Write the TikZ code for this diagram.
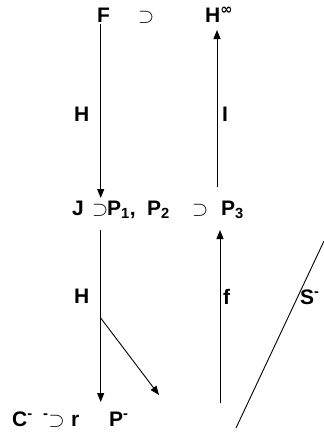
\documentclass[tikz,border=0pt]{standalone}
\usepackage{amsmath,amssymb}
\usepackage{fontspec}
\setmainfont{Liberation Sans}
\newfontfamily\symfont{DejaVu Sans}
\usetikzlibrary{arrows.meta}

\tikzset{
  lbl/.style={font=\bfseries\fontsize{21}{23}\selectfont, inner sep=0pt, anchor=base west},
  map/.style={line width=0.9pt, -{Triangle[length=9pt,width=7pt]}}
}
\newcommand{\incl}{{\fontsize{20}{22}\selectfont$\supset$}}

\begin{document}
\begin{tikzpicture}[x=1pt,y=-1pt]
  \useasboundingbox (0,0) rectangle (324,434);

  % top row
  \node[lbl] (Fset) at (97,22) {F};
  \node[lbl] (topsup) at (138,22) {\incl};
  \node[lbl] (Hinf) at (205,22) {H\textsuperscript{\symfont\bfseries ∞}};

  % middle row
  \node[lbl] (Jset) at (72,215) {J};
  \node[lbl] (midsupA) at (92,215) {\incl};
  \node[lbl] (Pone) at (107,215) {P\textsubscript{1},};
  \node[lbl] (Ptwo) at (147,215) {P\textsubscript{2}};
  \node[lbl] (midsupB) at (192,215) {\incl};
  \node[lbl] (Pthree) at (221,215) {P\textsubscript{3}};

  % bottom row
  \node[lbl] (Cset) at (12,426) {C\textsuperscript{-}};
  \node[lbl] (botsup) at (43,426) {\textsuperscript{-}\incl};
  \node[lbl] (rset) at (71,426) {r};
  \node[lbl] (Pbot) at (109,426) {P\textsuperscript{-}};

  % arrow ends
  \coordinate (Fout) at (100.7,24);
  \coordinate (Jin) at (100.7,198);
  \coordinate (Iout) at (217,187);
  \coordinate (Iin) at (217,30);
  \coordinate (Jout) at (100.7,230);
  \coordinate (Cin) at (100.7,402);
  \coordinate (Hsplit) at (100.7,318);
  \coordinate (Pin) at (159,395);
  \coordinate (fout) at (220,403);
  \coordinate (fin) at (220,230);
  \coordinate (Slow) at (236,428);
  \coordinate (Shigh) at (324,241);

  \draw[map] (Fout) -- (Jin);
  \draw[map] (Iout) -- (Iin);
  \draw[map] (Jout) -- (Cin);
  \draw[map] (Hsplit) -- (Pin);
  \draw[map] (fout) -- (fin);
  \draw[line width=0.9pt] (Slow) -- (Shigh);

  % arrow labels
  \node[lbl] (Htop) at (74,121) {H};
  \node[lbl] (Iright) at (222,121) {I};
  \node[lbl] (Hbot) at (74,303) {H};
  \node[lbl] (fmap) at (223,304) {f};
  \node[lbl] (Smap) at (300,304) {S\textsuperscript{-}};
\end{tikzpicture}
\end{document}
